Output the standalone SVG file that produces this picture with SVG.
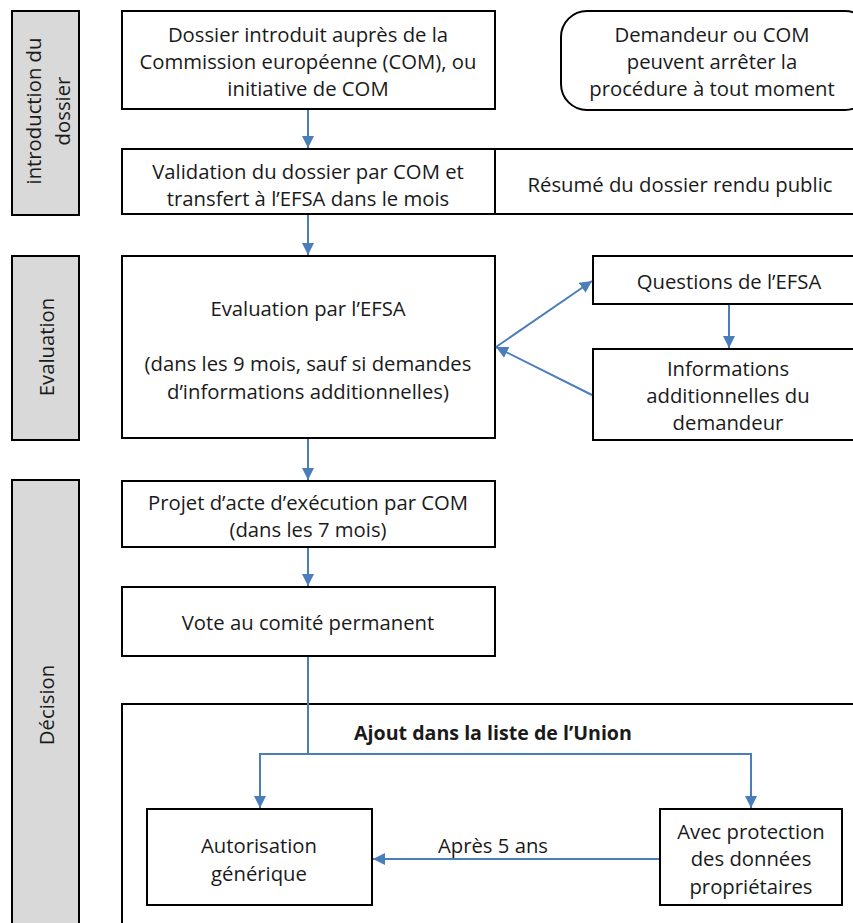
<svg xmlns="http://www.w3.org/2000/svg" width="853" height="923" viewBox="0 0 853 923">
<style>
  .box { fill: #ffffff; stroke: #000000; stroke-width: 2; }
  .side { fill: #d9d9d9; stroke: #000000; stroke-width: 2; }
  .t { font-family: "Open Sans", Lato, "Liberation Sans", sans-serif; font-size: 20.3px; fill: #1a1a1a; text-anchor: middle; dominant-baseline: central; }
  .b { font-weight: bold; font-size: 19.6px; }
  .conn { fill: none; stroke: #4a7ebb; stroke-width: 2; }
</style>
<defs>
  <marker id="ah" viewBox="0 0 12 12" refX="12" refY="6" markerWidth="12" markerHeight="12" markerUnits="userSpaceOnUse" orient="auto">
    <path d="M0,0 L12,6 L0,12 Z" fill="#4a7ebb"/>
  </marker>
</defs>
<rect width="853" height="923" fill="#ffffff"/>

<g id="phase-intro">
  <rect class="side" x="12" y="11" width="67" height="204"/>
  <text class="t" transform="translate(33,111) rotate(-90)">introduction du</text>
  <text class="t" transform="translate(62,111) rotate(-90)">dossier</text>
</g>
<g id="phase-eval">
  <rect class="side" x="12" y="256" width="67" height="184"/>
  <text class="t" transform="translate(46,347) rotate(-90)">Evaluation</text>
</g>
<g id="phase-decision">
  <rect class="side" x="12" y="480" width="67" height="460"/>
  <text class="t" transform="translate(46,705) rotate(-90)">Décision</text>
</g>

<g id="n-dossier">
  <rect class="box" x="122" y="11" width="373" height="98"/>
  <text class="t" x="308" y="34">Dossier introduit auprès de la</text>
  <text class="t" x="308" y="61">Commission européenne (COM), ou</text>
  <text class="t" x="308" y="88">initiative de COM</text>
</g>
<g id="n-arret">
  <rect class="box" x="561" y="11" width="310" height="99" rx="26" ry="26"/>
  <text class="t" x="712" y="34">Demandeur ou COM</text>
  <text class="t" x="712" y="61">peuvent arrêter la</text>
  <text class="t" x="712" y="88">procédure à tout moment</text>
</g>
<g id="n-validation">
  <rect class="box" x="122" y="149" width="373" height="65"/>
  <text class="t" x="308" y="171">Validation du dossier par COM et</text>
  <text class="t" x="308" y="198">transfert à l’EFSA dans le mois</text>
</g>
<g id="n-resume">
  <rect class="box" x="495" y="149" width="370" height="65"/>
  <text class="t" x="680" y="184">Résumé du dossier rendu public</text>
</g>
<g id="n-evaluation">
  <rect class="box" x="122" y="256" width="373" height="182"/>
  <text class="t" x="308" y="308">Evaluation par l’EFSA</text>
  <text class="t" x="308" y="363">(dans les 9 mois, sauf si demandes</text>
  <text class="t" x="308" y="391">d’informations additionnelles)</text>
</g>
<g id="n-questions">
  <rect class="box" x="593" y="256" width="272" height="48"/>
  <text class="t" x="729" y="281">Questions de l’EFSA</text>
</g>
<g id="n-infos">
  <rect class="box" x="593" y="349" width="272" height="91"/>
  <text class="t" x="728" y="368">Informations</text>
  <text class="t" x="728" y="395">additionnelles du</text>
  <text class="t" x="728" y="422">demandeur</text>
</g>
<g id="n-projet">
  <rect class="box" x="122" y="481" width="373" height="66"/>
  <text class="t" x="308" y="502">Projet d’acte d’exécution par COM</text>
  <text class="t" x="308" y="529">(dans les 7 mois)</text>
</g>
<g id="n-vote">
  <rect class="box" x="122" y="587" width="373" height="69"/>
  <text class="t" x="308" y="622">Vote au comité permanent</text>
</g>
<g id="n-liste">
  <rect class="box" x="122" y="704" width="760" height="240"/>
  <text class="t b" x="493" y="732">Ajout dans la liste de l’Union</text>
</g>
<g id="n-generique">
  <rect class="box" x="147" y="809" width="225" height="96"/>
  <text class="t" x="259" y="845">Autorisation</text>
  <text class="t" x="259" y="873">générique</text>
</g>
<g id="n-protection">
  <rect class="box" x="660" y="809" width="182" height="96"/>
  <text class="t" x="751" y="831">Avec protection</text>
  <text class="t" x="751" y="858">des données</text>
  <text class="t" x="751" y="886">propriétaires</text>
</g>

<g id="connectors">
  <line class="conn" x1="308" y1="110" x2="308" y2="148" marker-end="url(#ah)"/>
  <line class="conn" x1="308" y1="215" x2="308" y2="255" marker-end="url(#ah)"/>
  <line class="conn" x1="496" y1="347" x2="592" y2="281" marker-end="url(#ah)"/>
  <line class="conn" x1="592" y1="395" x2="496" y2="347" marker-end="url(#ah)"/>
  <line class="conn" x1="729" y1="305" x2="729" y2="348" marker-end="url(#ah)"/>
  <line class="conn" x1="308" y1="439" x2="308" y2="480" marker-end="url(#ah)"/>
  <line class="conn" x1="308" y1="548" x2="308" y2="586" marker-end="url(#ah)"/>
  <polyline class="conn" points="308,657 308,754 260,754 260,808" marker-end="url(#ah)"/>
  <polyline class="conn" points="308,754 751,754 751,808" marker-end="url(#ah)"/>
  <line class="conn" x1="659" y1="859" x2="373" y2="859" marker-end="url(#ah)"/>
  <text class="t" x="493" y="845">Après 5 ans</text>
</g>
</svg>
